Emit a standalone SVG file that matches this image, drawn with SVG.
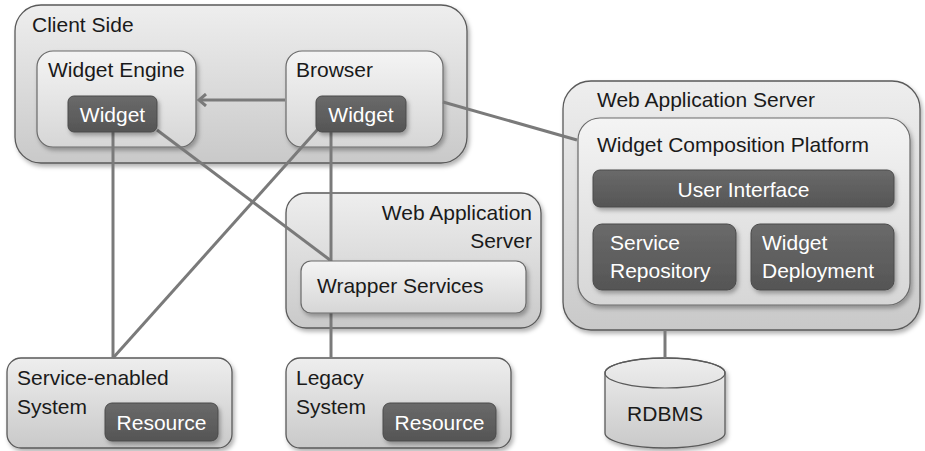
<svg xmlns="http://www.w3.org/2000/svg" width="925" height="451" viewBox="0 0 925 451">
<defs>
<linearGradient id="lg" x1="0" y1="0" x2="0" y2="1">
<stop offset="0" stop-color="#eeeeee"/><stop offset="1" stop-color="#c9c9c9"/>
</linearGradient>
<linearGradient id="lg2" x1="0" y1="0" x2="0" y2="1">
<stop offset="0" stop-color="#f4f4f4"/><stop offset="1" stop-color="#d6d6d6"/>
</linearGradient>
<linearGradient id="dg" x1="0" y1="0" x2="0" y2="1">
<stop offset="0" stop-color="#6a6a6a"/><stop offset="1" stop-color="#555555"/>
</linearGradient>
<filter id="sh" x="-10%" y="-10%" width="130%" height="140%">
<feDropShadow dx="2" dy="3" stdDeviation="2" flood-color="#000" flood-opacity="0.3"/>
</filter>
<marker id="arr" markerWidth="14" markerHeight="14" refX="10" refY="7" orient="auto" markerUnits="userSpaceOnUse">
<polyline points="3,1 10,7 3,13" fill="none" stroke="#7a7a7a" stroke-width="3"/>
</marker>
</defs>
<style>
.box{fill:url(#lg);stroke:#5a5a5a;stroke-width:1.3;filter:url(#sh)}
.inner{fill:url(#lg2);stroke:#6a6a6a;stroke-width:1.2;filter:url(#sh)}
.dark{fill:url(#dg);stroke:#4a4a4a;stroke-width:1;filter:url(#sh)}
.t{font-family:"Liberation Sans",Arial,sans-serif;font-size:21px;fill:#1a1a1a}
.w{font-family:"Liberation Sans",Arial,sans-serif;font-size:21px;fill:#ffffff}
.c{stroke:#7a7a7a;stroke-width:3;fill:none}
</style>
<rect width="925" height="451" fill="#ffffff"/>

<g id="client-side">
<rect class="box" x="15" y="5" width="452" height="158" rx="26"/>
<text class="t" x="32" y="32">Client Side</text>
</g>
<g id="widget-engine">
<rect class="inner" x="37" y="51" width="159" height="96" rx="16"/>
<text class="t" x="48" y="77">Widget Engine</text>
</g>
<g id="browser">
<rect class="inner" x="286" y="51" width="157" height="96" rx="16"/>
<text class="t" x="296" y="77">Browser</text>
</g>

<g id="was-mid">
<rect class="box" x="286" y="193" width="255" height="135" rx="20"/>
<text class="t" x="532" y="220" text-anchor="end">Web Application</text>
<text class="t" x="532" y="248" text-anchor="end">Server</text>
</g>

<g id="was-right">
<rect class="box" x="563" y="81" width="357" height="249" rx="28"/>
<text class="t" x="597" y="107">Web Application Server</text>
</g>
<g id="wcp">
<rect class="inner" x="578" y="118" width="332" height="187" rx="22"/>
<text class="t" x="597" y="152">Widget Composition Platform</text>
</g>

<g id="service-enabled">
<rect class="box" x="7" y="358" width="225" height="90" rx="14"/>
<text class="t" x="17" y="385">Service-enabled</text>
<text class="t" x="17" y="414">System</text>
</g>
<g id="legacy">
<rect class="box" x="286" y="358" width="225" height="90" rx="14"/>
<text class="t" x="296" y="385">Legacy</text>
<text class="t" x="296" y="414">System</text>
</g>

<g id="rdbms">
<path class="box" d="M605,373 A60,15 0 0 1 725,373 L725,433 A60,15 0 0 1 605,433 Z"/>
<ellipse cx="665" cy="373" rx="60" ry="15" fill="none" stroke="#5a5a5a" stroke-width="1.2"/>
<text class="t" x="665" y="421" text-anchor="middle">RDBMS</text>
</g>

<g id="connectors">
<line class="c" x1="285" y1="100" x2="199" y2="100" marker-end="url(#arr)"/>
<line class="c" x1="443" y1="102" x2="577" y2="140"/>
<line class="c" x1="113" y1="132" x2="113" y2="358"/>
<line class="c" x1="157" y1="130" x2="330" y2="260"/>
<line class="c" x1="318" y1="129" x2="113" y2="358"/>
<line class="c" x1="331" y1="132" x2="331" y2="261"/>
<line class="c" x1="331" y1="313" x2="331" y2="358"/>
<line class="c" x1="665" y1="330" x2="665" y2="358"/>
</g>

<g id="widget-left">
<rect class="dark" x="68" y="96" width="89" height="36" rx="6"/>
<text class="w" x="112.5" y="122" text-anchor="middle">Widget</text>
</g>
<g id="widget-right">
<rect class="dark" x="316" y="96" width="90" height="36" rx="6"/>
<text class="w" x="361" y="122" text-anchor="middle">Widget</text>
</g>
<g id="wrapper-services">
<rect class="inner" x="301" y="261" width="225" height="52" rx="10"/>
<text class="t" x="317" y="293">Wrapper Services</text>
</g>
<g id="user-interface">
<rect class="dark" x="593" y="170" width="301" height="37" rx="7"/>
<text class="w" x="743.5" y="197" text-anchor="middle">User Interface</text>
</g>
<g id="service-repository">
<rect class="dark" x="593" y="224" width="143" height="66" rx="9"/>
<text class="w" x="610" y="250">Service</text>
<text class="w" x="610" y="278">Repository</text>
</g>
<g id="widget-deployment">
<rect class="dark" x="751" y="224" width="143" height="66" rx="9"/>
<text class="w" x="762" y="250">Widget</text>
<text class="w" x="762" y="278">Deployment</text>
</g>
<g id="resource-1">
<rect class="dark" x="105" y="403" width="113" height="38" rx="7"/>
<text class="w" x="161.5" y="430" text-anchor="middle">Resource</text>
</g>
<g id="resource-2">
<rect class="dark" x="383" y="403" width="113" height="38" rx="7"/>
<text class="w" x="439.5" y="430" text-anchor="middle">Resource</text>
</g>
</svg>
